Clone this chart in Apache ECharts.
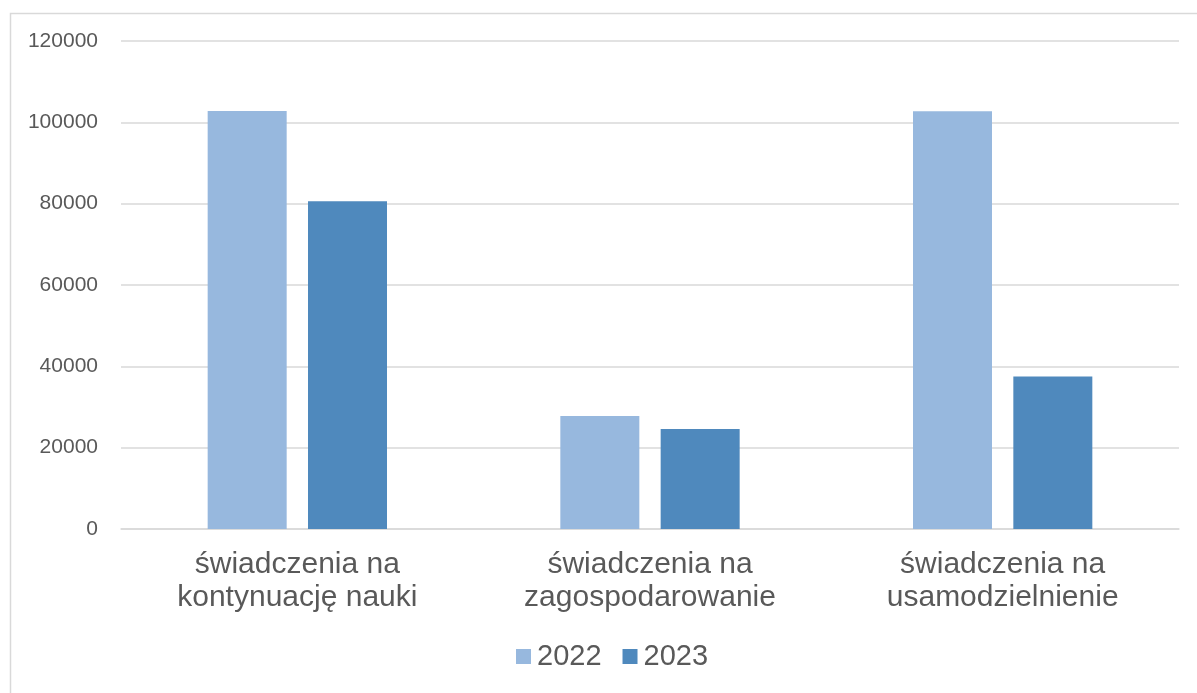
<!DOCTYPE html>
<html>
<head>
<meta charset="utf-8">
<script src="https://cdn.jsdelivr.net/npm/echarts@6/dist/echarts.min.js"></script>
<style>html,body{margin:0;padding:0;background:#fff}#c{width:1197px;height:693px}</style>
</head>
<body>
<div id="c"></div>
<script>
const categories = ['świadczenia na\nkontynuację nauki', 'świadczenia na\nzagospodarowanie', 'świadczenia na\nusamodzielnienie'];
const seriesNames = ['2022', '2023'];
const values2022 = [102800, 27800, 102700];
const values2023 = [80600, 24600, 37500];
const yTicks = [0, 20000, 40000, 60000, 80000, 100000, 120000];

const chart = echarts.init(document.getElementById('c'));
const font = '"Liberation Sans", Arial, sans-serif';
chart.setOption({
  animation: false,
  backgroundColor: '#fff',
  graphic: [{
    type: 'rect', left: 8, top: 11, shape: {width: 1200, height: 700},
    style: {fill: 'none', stroke: '#D9D9D9', lineWidth: 1.5}, silent: true
  }],
  grid: {left: 121, right: 18, top: 41, bottom: 164},
  legend: {
    data: seriesNames, bottom: 17, left: 511, itemWidth: 15, itemHeight: 15, itemGap: 21,
    icon: 'rect',
    textStyle: {fontFamily: font, fontSize: 29, color: '#595959', padding: [0, 0, 0, 1]}
  },
  xAxis: {
    type: 'category', data: categories,
    axisLine: {show: true, lineStyle: {color: '#D9D9D9', width: 1.5}},
    axisTick: {show: false},
    axisLabel: {fontFamily: font, fontSize: 30, lineHeight: 33, color: '#595959', margin: 19, interval: 0}
  },
  yAxis: {
    type: 'value', min: yTicks[0], max: yTicks[yTicks.length - 1], interval: yTicks[1] - yTicks[0],
    axisLine: {show: false}, axisTick: {show: false},
    splitLine: {lineStyle: {color: '#D9D9D9', width: 1.5}},
    axisLabel: {fontFamily: font, fontSize: 21, color: '#595959', margin: 23, formatter: v => String(v)}
  },
  series: [
    {name: seriesNames[0], type: 'bar', data: values2022, barWidth: 79, barGap: '27%',
     itemStyle: {color: '#97B8DE'}},
    {name: seriesNames[1], type: 'bar', data: values2023, barWidth: 79,
     itemStyle: {color: '#4F89BD'}}
  ]
});
</script>
</body>
</html>
